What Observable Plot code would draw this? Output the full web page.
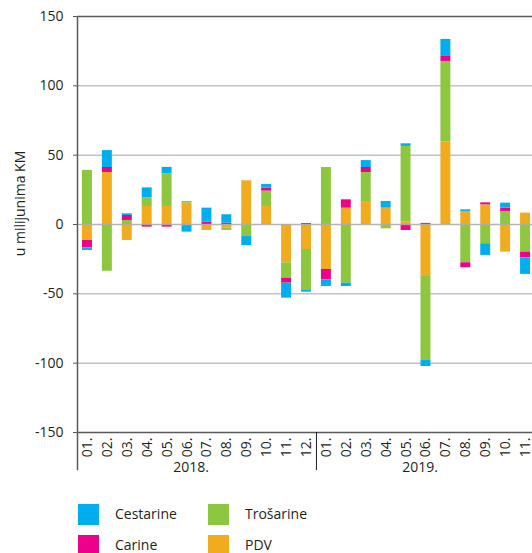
<!DOCTYPE html>
<html><head><meta charset="utf-8">
<script src="https://cdn.jsdelivr.net/npm/d3@7"></script>
<script src="https://cdn.jsdelivr.net/npm/@observablehq/plot@0.6"></script>
<style>
html,body{margin:0;padding:0;background:#fff;overflow:hidden;}
#wrap{position:relative;width:532px;height:553px;overflow:hidden;font-family:"Open Sans",sans-serif;}
#legend{position:absolute;left:78px;top:504px;display:grid;grid-template-columns:130px auto;grid-auto-rows:31px;font-size:14px;color:#231f20;}
.item{display:flex;align-items:flex-start;height:31px;}
.item i{display:inline-block;width:21px;height:21px;margin-right:16px;flex:none;}
.item span{line-height:20px;}
</style></head><body><div id="wrap"></div>
<script>
const periods = ["2018-01","2018-02","2018-03","2018-04","2018-05","2018-06","2018-07","2018-08","2018-09","2018-10","2018-11","2018-12",
                 "2019-01","2019-02","2019-03","2019-04","2019-05","2019-06","2019-07","2019-08","2019-09","2019-10","2019-11"];
const yearLabels = ["2018.","2019."];
const yearMid = ["2018-06","2019-06"];
const firstOfYear = ["2019-01"];

const pdv       = [-11.5, 37.5, -11.5, 13, 13, 15.4, -4.3, -2.6, 31.5, 13, -27.6, -18, -32.4, 11.8, 16.6, 11.8, 1.7, -37.5, 59.4, 9.4, 14.2, -19.9, 8.2];
const trosarine = [39, -33.7, 2.9, 6.2, 23.6, 1.2, 0, -1.7, -8.7, 11.1, -11.1, -29.6, 41.1, -42.3, 20.9, -3.1, 54.6, -60.6, 58.2, -27.6, -13.9, 9.4, -19.9];
const carine    = [-5.3, 3.6, 3.6, -1.9, -1.9, 0, 1.7, 1.0, 0, 2.2, -3.6, 0.7, -7.5, 6.0, 3.6, 0, -4.3, 0.8, 3.6, -3.6, 1.4, 2.4, -4.1];
const cestarine = [-1.9, 12.2, 1.2, 7.2, 4.6, -5.5, 10.1, 6.0, -6.5, 2.6, -10.8, -1.2, -4.8, -2.4, 5.0, 4.8, 1.9, -4.3, 12.3, 1.2, -8.4, 3.6, -12.0];

const stackOrder = ["PDV","Trošarine","Carine","Cestarine"];
const seriesValues = {"PDV": pdv, "Trošarine": trosarine, "Carine": carine, "Cestarine": cestarine};
const legendNames = ["Cestarine","Trošarine","Carine","PDV"];
const legendColors = ["#00AEEF","#8DC63F","#EC008C","#F0AB1F"];
const yTicks = [-150,-100,-50,0,50,100,150];
const gridTicks = [-100,-50,50,100];
const yTitle = "u milijunima KM";

const rows = [];
periods.forEach((p, i) => stackOrder.forEach(s => rows.push({period: p, series: s, value: seriesValues[s][i]})));

const W = 540, H = 490, ML = 77, MR = 5, MT = 16, MB = 58;
const half = (W - ML - MR) / periods.length / 2;
const dark = "#5a5a5a";

const chart = Plot.plot({
  width: W, height: H, marginLeft: ML, marginRight: MR, marginTop: MT, marginBottom: MB,
  style: {fontFamily: "Open Sans", fontSize: "14px", maxWidth: "none", overflow: "visible", color: "#231f20", background: "#fff"},
  x: {type: "band", domain: periods, paddingInner: 0.5, paddingOuter: 0.25, round: false, axis: null},
  y: {domain: [-150, 150], axis: null},
  color: {domain: legendNames, range: legendColors},
  marks: [
    Plot.gridY(gridTicks, {stroke: "#c2c2c2", strokeOpacity: 1, strokeWidth: 1.5}),
    Plot.barY(rows, {x: "period", y: "value", fill: "series", order: stackOrder}),
    Plot.ruleY([0], {stroke: "#adadad", strokeWidth: 1.5, strokeOpacity: 0.9}),
    Plot.ruleY([150, -150], {stroke: dark, strokeWidth: 1.5}),
    Plot.axisY({ticks: yTicks, tickSize: 4, tickPadding: 10, tickFormat: d => String(d), stroke: dark, fontSize: 14, label: null}),
    Plot.axisX({tickRotate: -90, tickSize: 0, tickPadding: 5, tickFormat: p => p.slice(5) + ".", fontSize: 14, label: null}),
    Plot.ruleX([periods[0]], {dx: -half, y1: 150, y2: -177.5, stroke: dark, strokeWidth: 1.5}),
    Plot.ruleX(firstOfYear, {dx: -half, y1: -150, y2: -177.5, stroke: "#231f20", strokeWidth: 1}),
    Plot.text([yearLabels[0]], {x: [yearMid[0]], text: d => d, frameAnchor: "bottom", dy: 39, dx: 4, fontSize: 14}),
    Plot.text([yearLabels[1]], {x: [yearMid[1]], text: d => d, frameAnchor: "bottom", dy: 39, dx: -6, fontSize: 14}),
    Plot.text([yTitle], {frameAnchor: "left", textAnchor: "middle", rotate: -90, dx: -57, dy: -21, fontSize: 14, text: d => d})
  ]
});

const wrap = document.getElementById("wrap");
wrap.appendChild(chart);
const legend = document.createElement("div");
legend.id = "legend";
legendNames.forEach((n, i) => {
  const it = document.createElement("div");
  it.className = "item";
  it.innerHTML = `<i style="background:${legendColors[i]}"></i><span>${n}</span>`;
  legend.appendChild(it);
});
wrap.appendChild(legend);
</script>
</body></html>
